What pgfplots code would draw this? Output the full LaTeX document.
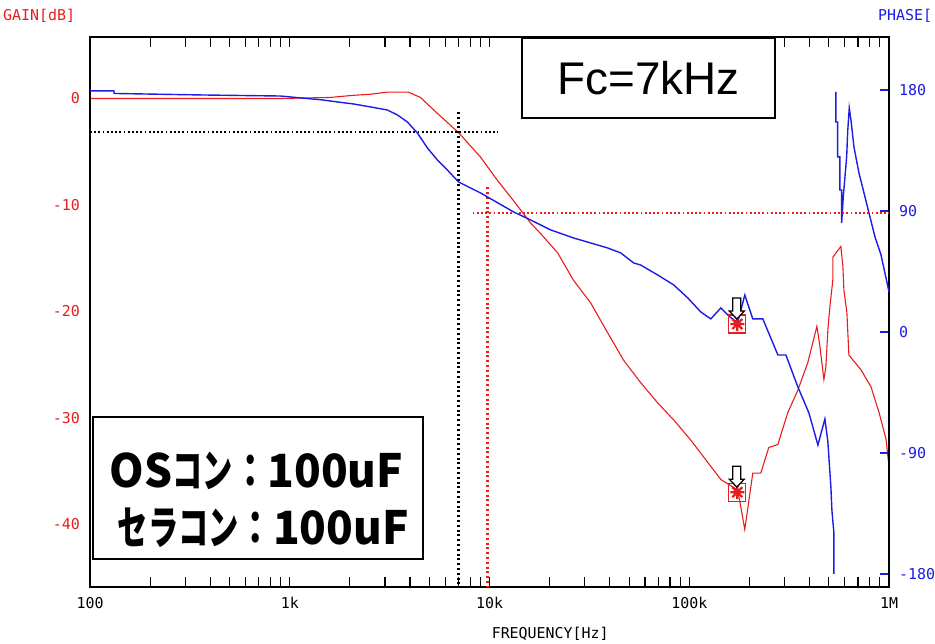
\documentclass[border=0pt]{standalone}
\usepackage{fontspec}
\setmainfont{Liberation Sans}
\newfontfamily\monofont{DejaVu Sans Mono}
\newfontfamily\cjkL[FakeStretch=0.96]{Noto Sans CJK JP}
\newfontfamily\cjkK[FakeStretch=0.66]{Noto Sans CJK JP}
\newfontfamily\cjkC[FakeStretch=0.75]{Noto Sans CJK JP}
\usepackage{pgfplots}
\pgfplotsset{compat=1.18}
\definecolor{gred}{RGB}{232,28,28}
\definecolor{pblue}{RGB}{28,28,228}

\pgfdeclareplotmark{probe}{%
  \pgfsetlinewidth{1.3bp}%
  \pgfsetstrokecolor{gred}%
  \pgfpathrectangle{\pgfpoint{-9bp}{-11bp}}{\pgfpoint{17bp}{18bp}}%
  \pgfusepathqstroke
  \pgfsetlinewidth{2.2bp}%
  \pgfpathmoveto{\pgfpoint{-7.5bp}{-2bp}}\pgfpathlineto{\pgfpoint{6.5bp}{-2bp}}%
  \pgfpathmoveto{\pgfpoint{-0.5bp}{-9bp}}\pgfpathlineto{\pgfpoint{-0.5bp}{5bp}}%
  \pgfpathmoveto{\pgfpoint{-5.5bp}{-7bp}}\pgfpathlineto{\pgfpoint{4.5bp}{3bp}}%
  \pgfpathmoveto{\pgfpoint{-5.5bp}{3bp}}\pgfpathlineto{\pgfpoint{4.5bp}{-7bp}}%
  \pgfusepathqstroke
  \pgfsetlinewidth{1.3bp}%
  \pgfsetstrokecolor{black}\pgfsetfillcolor{white}%
  \pgfpathmoveto{\pgfpoint{-1bp}{3bp}}%
  \pgfpathlineto{\pgfpoint{-8.5bp}{11bp}}%
  \pgfpathlineto{\pgfpoint{-5bp}{11bp}}%
  \pgfpathlineto{\pgfpoint{-5bp}{24bp}}%
  \pgfpathlineto{\pgfpoint{3bp}{24bp}}%
  \pgfpathlineto{\pgfpoint{3bp}{11bp}}%
  \pgfpathlineto{\pgfpoint{6.5bp}{11bp}}%
  \pgfpathclose
  \pgfusepathqfillstroke
}

\tikzset{mydots/.style={line width=1.8bp, dash pattern=on 1.8bp off 2.4bp},
         myvdots/.style={line width=2.1bp, dash pattern=on 2bp off 2.8bp}}

\begin{document}
\begin{tikzpicture}
\useasboundingbox (-90bp,-57bp) rectangle (845bp,587bp);
% ---------- GAIN axis ----------
\begin{axis}[
  at={(0,0)}, anchor=south west,
  scale only axis, width=799bp, height=550bp,
  xmode=log, xmin=100, xmax=1000000,
  clip=false,
  axis line style={line width=1.5bp, black},
  tick label style={font=\monofont\fontsize{15}{15}\selectfont, inner sep=0pt},
  ymin=-45.9, ymax=5.78,
  xtick={100,1000,10000,100000,1000000},
  xticklabels={100,1k,10k,100k,1M},
  minor xtick={200,300,400,500,600,700,800,900,2000,3000,4000,5000,6000,7000,8000,9000,20000,30000,40000,50000,60000,70000,80000,90000,200000,300000,400000,500000,600000,700000,800000,900000},
  xtick pos=both, xtick align=inside,
  major tick length=10bp, minor tick length=10bp,
  xtick style={black, line width=1.2bp},
  ytick={-40,-30,-20,-10,0},
  yticklabels={-40,-30,-20,-10,0},
  ytick pos=left,
  ytick style={draw=none},
  xticklabel style={yshift=-10bp},
  yticklabel style={gred, xshift=-10bp},
  xlabel={FREQUENCY[Hz]},
  xlabel style={font=\monofont\fontsize{15}{15}\selectfont, at={(axis description cs:0.576,0)}, anchor=north, inner sep=0pt, yshift=-40bp},
]
\addplot[gred, line width=1.1bp] coordinates {
(100,0) (896,0) (1596,0.1) (2080,0.3) (2533,0.4) (3081,0.6) (3926,0.6) (4508,0.1)
(5486,-1.4) (6995,-3.2) (9015,-5.5) (10965,-7.7) (13190,-9.6) (16060,-11.7) (18030,-12.7)
(21930,-14.5) (26370,-17.1) (32080,-19.2) (39010,-22.0) (46950,-24.6) (57120,-26.7)
(69480,-28.6) (83560,-30.2) (101800,-32.1) (123900,-34.2) (143900,-35.8) (165300,-36.5)
(175000,-36.8) (189700,-40.5) (208000,-35.2) (228000,-35.2) (250000,-32.8) (277700,-32.5)
(311600,-29.5) (349700,-27.4) (392500,-24.8) (435600,-21.4) (451000,-23.3) (472100,-26.4)
(483100,-25.2) (494300,-21.7) (505800,-19.6) (523600,-17.0) (523700,-14.9) (574300,-13.9)
(587700,-15.8) (594500,-18.0) (615300,-20.1) (629700,-24.1) (724400,-25.5) (812800,-27.1)
(891300,-29.5) (966100,-32.0) (1000000,-34.6)
};
\addplot[black, mydots] coordinates {(100,-3.15) (11090,-3.15)};
\addplot[black, myvdots] coordinates {(6995,-1.27) (6995,-45.9)};
\addplot[gred, myvdots] coordinates {(9772,-8.36) (9772,-45.9)};
\addplot[only marks, mark=probe] coordinates {(175000,-36.8)};
\node[gred, font=\monofont\fontsize{15}{15}\selectfont, anchor=west, inner sep=0pt] at (rel axis cs:-0.1089,1.0382) {GAIN[dB]};
\end{axis}
% ---------- PHASE axis ----------
\begin{axis}[
  at={(0,0)}, anchor=south west,
  scale only axis, width=799bp, height=550bp,
  xmode=log, xmin=100, xmax=1000000,
  clip=false,
  axis line style={line width=1.5bp, black},
  tick label style={font=\monofont\fontsize{15}{15}\selectfont, inner sep=0pt},
  ymin=-189.7, ymax=219.4,
  hide x axis,
  ytick={-180,-90,0,90,180},
  yticklabels={-180,-90,0,90,180},
  ytick pos=right, yticklabel pos=right, ytick align=inside,
  major tick length=9bp,
  ytick style={pblue, line width=1.5bp},
  yticklabel style={pblue, xshift=10bp},
]
\addplot[pblue, line width=1.4bp] coordinates {
(100,179.3) (131.9,179.3) (132,177.4) (355.9,176.3) (896,175.5) (1455,172.6) (1730,171.1)
(2080,169.6) (2533,167.4) (3081,165.1) (3459,161.4) (3881,156.2) (4355,148.0) (4887,136.9)
(5486,127.9) (6157,120.4) (6995,111.6) (9015,103.4) (13190,89.3) (16060,83.3) (20230,75.9)
(26370,69.9) (32080,66.2) (39010,62.5) (45380,58.8) (52720,51.3) (57120,49.8) (69480,42.4)
(83560,35.0) (98290,25.3) (114200,14.9) (128200,9.7) (143900,17.9) (156000,12.6)
(167100,8.9) (175000,7.4) (189700,27.5) (208000,9.7) (233500,9.7) (277700,-17.1)
(304600,-17.1) (349700,-40.9) (397200,-60.2) (440600,-84.1) (477600,-64.7) (494300,-81.8)
(511700,-115.3) (517600,-132.4) (529800,-149.5) (529900,-180)
};
\addplot[pblue, line width=1.4bp] coordinates {
(542300,178.5) (542300,156.2) (553000,156.2) (553000,130.2) (568000,130.2) (568000,105.6)
(579300,105.6) (579300,81.1) (590200,100.4) (601800,115.3) (613800,130.2) (620900,148.8)
(632400,166.6) (644800,157.7) (667600,137.6) (707200,118.3) (749300,103.4) (793800,88.5)
(850900,70.7) (911800,57.3) (1000000,29.8)
};
\addplot[gred, mydots] coordinates {(8222,88.5) (1000000,88.5)};
\addplot[only marks, mark=probe] coordinates {(175000,7.4)};
\node[pblue, font=\monofont\fontsize{15}{15}\selectfont, anchor=west, inner sep=0pt] at (rel axis cs:0.9862,1.0382) {PHASE[};
\node[draw, line width=1.5bp, fill=white, minimum width=253bp, minimum height=80bp, inner sep=0pt,
  font=\fontsize{46}{46}\selectfont] at (rel axis cs:0.699,0.9255) {Fc=7kHz};
\node[draw, line width=1.5bp, fill=white, minimum width=330bp, minimum height=142bp, inner sep=0pt] at (rel axis cs:0.2103,0.18) {};
\node[anchor=base, inner sep=0pt, font=\bfseries\fontsize{46}{46}\selectfont] at (rel axis cs:0.2084,0.1818)
  {{\cjkL OS}{\cjkK コン}{\cjkC ：}{\cjkL 100uF}};
\node[anchor=base, inner sep=0pt, font=\bfseries\fontsize{46}{46}\selectfont] at (rel axis cs:0.217,0.0764)
  {{\cjkK セラコン}{\cjkC ：}{\cjkL 100uF}};
\end{axis}
\end{tikzpicture}
\end{document}
